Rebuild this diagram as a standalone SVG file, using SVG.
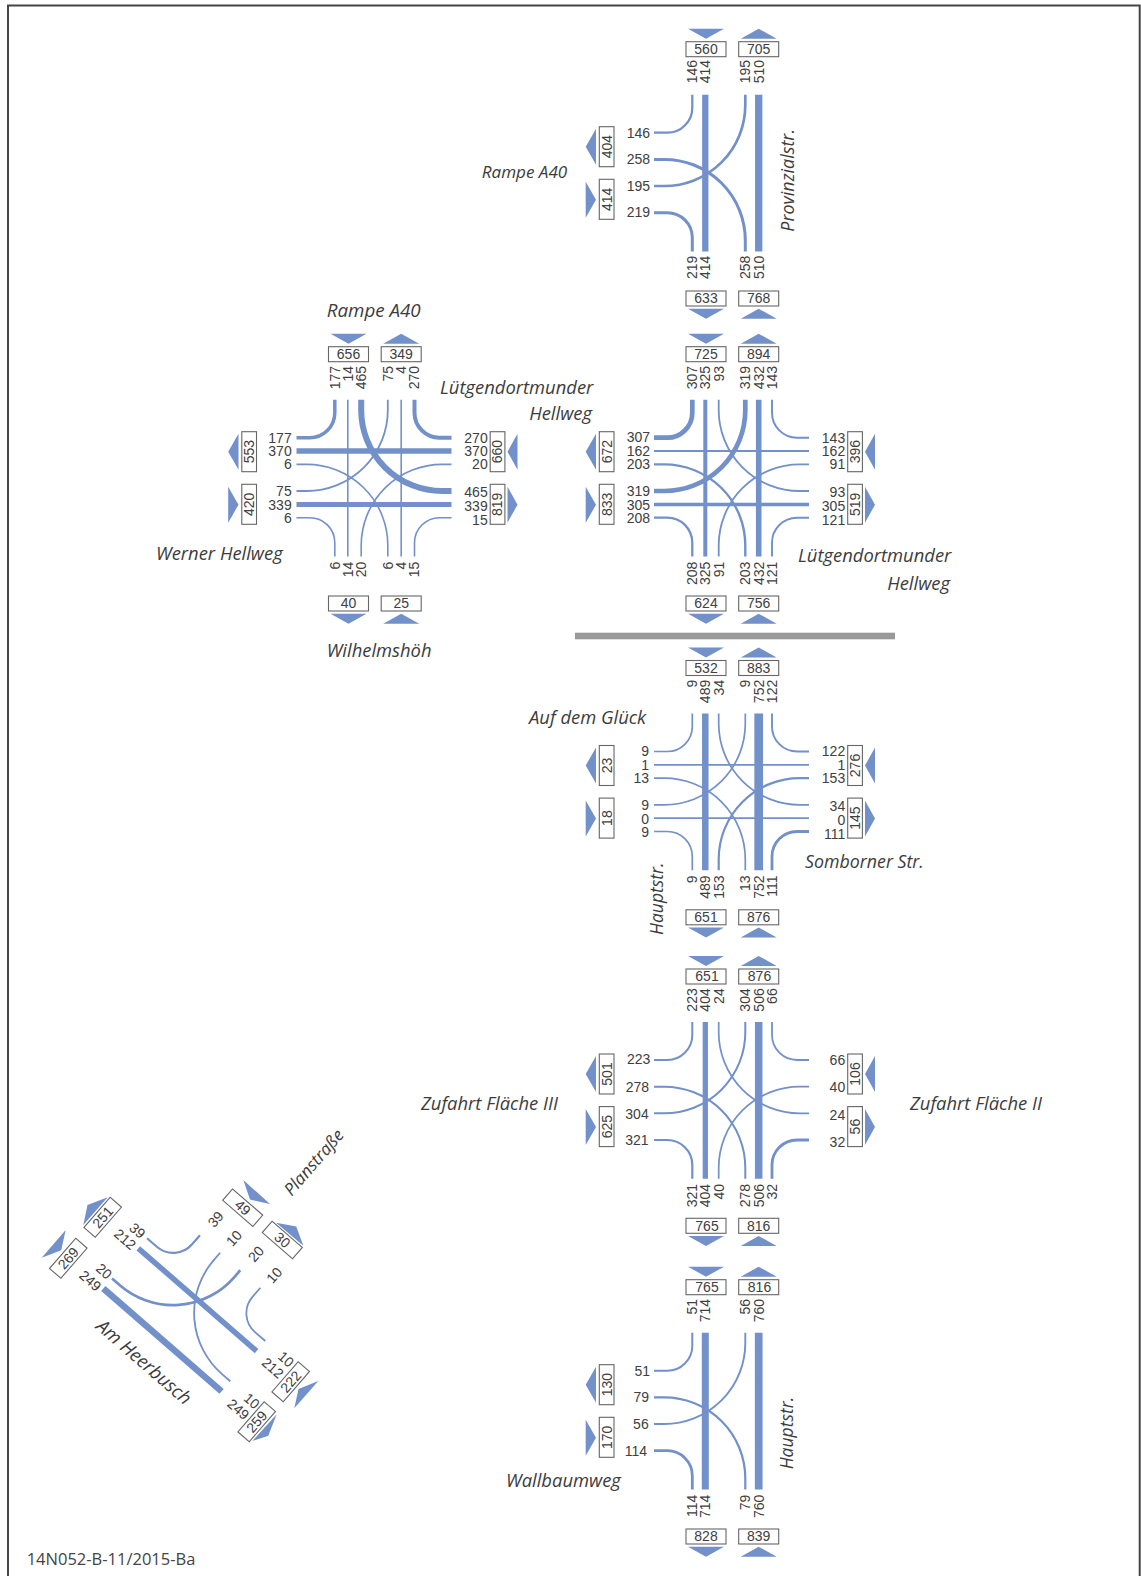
<svg xmlns="http://www.w3.org/2000/svg" width="1141" height="1576" viewBox="0 0 1141 1576">
<style>
text{font-family:"Liberation Sans",Arial,sans-serif;font-size:14px;fill:#404040}
.e{text-anchor:end}
.m{text-anchor:middle}
.i{font-family:"Open Sans","Noto Sans",sans-serif;font-style:italic;font-size:18.4px;fill:#3c3c3c}
.f{font-family:"Open Sans","Noto Sans",sans-serif;font-size:16.5px;fill:#444}
.b{fill:#fff;stroke:#666;stroke-width:1.1}
.t{fill:#7290c9}
#connectors path{fill:none;stroke:#7290c9}
</style>
<rect width="1141" height="1576" fill="#fff"/>
<path d="M8 1576V5.5H1139.7V1576" fill="none" stroke="#454545" stroke-width="2"/>
<rect id="divider" x="575" y="632.7" width="320" height="6.6" fill="#999"/>
<g id="connectors">
<g id="c-j1" transform="translate(0 132.7)">
<path stroke-width="2.3" d="M654 0H667A25 25 0 0 0 692.3-25V-38"/>
<path stroke-width="3" d="M654 26.7H664A81 81 0 0 1 745.3 107.7V118.7"/>
<path stroke-width="2.7" d="M654 53.3H664A81 81 0 0 0 745.3-27.7V-38"/>
<path stroke-width="3" d="M654 80H667A25 25 0 0 1 692.3 105V118.7"/>
<path stroke-width="6.3" d="M705.3-38V118.7"/>
<path stroke-width="7.3" d="M758.7-38V118.7"/>
</g>
<g id="c-j2" transform="translate(-357.5 437.7)">
<path stroke-width="3.5" d="M654 0H667A25 25 0 0 0 692.3-25V-38"/>
<path stroke-width="5.3" d="M654 13.3H809"/>
<path stroke-width="1.6" d="M654 26.7H664A81 81 0 0 1 745.3 107.7V118.7"/>
<path stroke-width="1.8" d="M654 53.3H664A81 81 0 0 0 745.3-27.7V-38"/>
<path stroke-width="5" d="M654 66.7H809"/>
<path stroke-width="1.6" d="M654 80H667A25 25 0 0 1 692.3 105V118.7"/>
<path stroke-width="4" d="M809 0H797A25 25 0 0 1 772-25V-38"/>
<path stroke-width="1.6" d="M809 26.7H799.7A81 81 0 0 0 718.7 107.7V118.7"/>
<path stroke-width="6" d="M809 53.3H799.7A81 81 0 0 1 718.7-27.7V-38"/>
<path stroke-width="1.6" d="M809 80H797A25 25 0 0 0 772 105V118.7"/>
<path stroke-width="1.6" d="M705.3-38V118.7"/>
<path stroke-width="1.6" d="M758.7-38V118.7"/>
</g>
<g id="c-j3" transform="translate(0 437.7)">
<path stroke-width="4.7" d="M654 0H667A25 25 0 0 0 692.3-25V-38"/>
<path stroke-width="2.2" d="M654 13.3H809"/>
<path stroke-width="2.4" d="M654 26.7H664A81 81 0 0 1 745.3 107.7V118.7"/>
<path stroke-width="4.7" d="M654 53.3H664A81 81 0 0 0 745.3-27.7V-38"/>
<path stroke-width="3.5" d="M654 66.7H809"/>
<path stroke-width="2.3" d="M654 80H667A25 25 0 0 1 692.3 105V118.7"/>
<path stroke-width="2" d="M809 0H797A25 25 0 0 1 772-25V-38"/>
<path stroke-width="1.8" d="M809 26.7H799.7A81 81 0 0 0 718.7 107.7V118.7"/>
<path stroke-width="1.8" d="M809 53.3H799.7A81 81 0 0 1 718.7-27.7V-38"/>
<path stroke-width="1.9" d="M809 80H797A25 25 0 0 0 772 105V118.7"/>
<path stroke-width="4" d="M705.3-38V118.7"/>
<path stroke-width="5.6" d="M758.7-38V118.7"/>
</g>
<g id="c-j4" transform="translate(0 751.5)">
<path stroke-width="1.7" d="M654 0H667A25 25 0 0 0 692.3-25V-38"/>
<path stroke-width="1.7" d="M654 13.3H809"/>
<path stroke-width="1.7" d="M654 26.7H664A81 81 0 0 1 745.3 107.7V118.7"/>
<path stroke-width="1.7" d="M654 53.3H664A81 81 0 0 0 745.3-27.7V-38"/>
<path stroke-width="1.7" d="M654 66.7H809"/>
<path stroke-width="1.7" d="M654 80H667A25 25 0 0 1 692.3 105V118.7"/>
<path stroke-width="1.9" d="M809 0H797A25 25 0 0 1 772-25V-38"/>
<path stroke-width="2.2" d="M809 26.7H799.7A81 81 0 0 0 718.7 107.7V118.7"/>
<path stroke-width="1.7" d="M809 53.3H799.7A81 81 0 0 1 718.7-27.7V-38"/>
<path stroke-width="2.8" d="M809 80H797A25 25 0 0 0 772 105V118.7"/>
<path stroke-width="6.5" d="M705.3-38V118.7"/>
<path stroke-width="8.7" d="M758.7-38V118.7"/>
</g>
<g id="c-j5" transform="translate(0 1060)">
<path stroke-width="2" d="M654 0H667A25 25 0 0 0 692.3-25V-38"/>
<path stroke-width="2" d="M654 26.7H664A81 81 0 0 1 745.3 107.7V118.7"/>
<path stroke-width="2" d="M654 53.3H664A81 81 0 0 0 745.3-27.7V-38"/>
<path stroke-width="2.2" d="M654 80H667A25 25 0 0 1 692.3 105V118.7"/>
<path stroke-width="1.8" d="M809 0H797A25 25 0 0 1 772-25V-38"/>
<path stroke-width="1.7" d="M809 26.7H799.7A81 81 0 0 0 718.7 107.7V118.7"/>
<path stroke-width="1.7" d="M809 53.3H799.7A81 81 0 0 1 718.7-27.7V-38"/>
<path stroke-width="2.8" d="M809 80H797A25 25 0 0 0 772 105V118.7"/>
<path stroke-width="5.3" d="M705.3-38V118.7"/>
<path stroke-width="7.5" d="M758.7-38V118.7"/>
</g>
<g id="c-j6" transform="translate(0 1370.7)">
<path stroke-width="2" d="M654 0H667A25 25 0 0 0 692.3-25V-38"/>
<path stroke-width="2.2" d="M654 26.7H664A81 81 0 0 1 745.3 107.7V118.7"/>
<path stroke-width="1.9" d="M654 53.3H664A81 81 0 0 0 745.3-27.7V-38"/>
<path stroke-width="2.8" d="M654 80H667A25 25 0 0 1 692.3 105V118.7"/>
<path stroke-width="7" d="M705.3-38V118.7"/>
<path stroke-width="7.7" d="M758.7-38V118.7"/>
</g>
<g id="c-j7" transform="translate(138.3 1248.3) rotate(-49)">
<path stroke-width="2.2" d="M50.3 38H38.3A25 25 0 0 1 13.33 13V0"/>
<path stroke-width="1.8" d="M50.3 64.67H40A81 81 0 0 0-40 145.67V156.7"/>
<path stroke-width="2.7" d="M50.3 91.33H41A81 81 0 0 1-40 10.33V0"/>
<path stroke-width="1.8" d="M50.3 118H38.3A25 25 0 0 0 13.33 143V156.7"/>
<path stroke-width="5.5" d="M0 0V156.7"/>
<path stroke-width="6.5" d="M-53.33 0V156.7"/>
</g>
</g>
<g id="j1" transform="translate(0 132.7)">
<g id="j1-n1"><polygon class="t" points="688,-104 724,-104 706,-94"/><rect class="b" x="686" y="-91" width="40" height="15"/><text class="m" x="706" y="-78.6">560</text></g>
<g id="j1-n2"><polygon class="t" points="740.7,-94 776.7,-94 758.7,-104"/><rect class="b" x="738.7" y="-91" width="40" height="15"/><text class="m" x="758.7" y="-78.6">705</text></g>
<g id="j1-s1"><polygon class="t" points="688,176 724,176 706,186"/><rect class="b" x="686" y="158.3" width="40" height="15"/><text class="m" x="706" y="170.7">633</text></g>
<g id="j1-s2"><polygon class="t" points="740.7,186 776.7,186 758.7,176"/><rect class="b" x="738.7" y="158.3" width="40" height="15"/><text class="m" x="758.7" y="170.7">768</text></g>
<g id="j1-w1"><polygon class="t" points="596,-4 596,32 585.7,14"/><rect class="b" x="599.3" y="-6" width="14.7" height="40"/><text class="m" transform="translate(611.5 14) rotate(-90)">404</text></g>
<g id="j1-w2"><polygon class="t" points="585.7,49 585.7,85 596,67"/><rect class="b" x="599.3" y="46.6" width="14.7" height="40"/><text class="m" transform="translate(611.5 66.6) rotate(-90)">414</text></g>
<g id="j1-labels">
<text class="e" transform="translate(696.8 -72.7) rotate(-90)">146</text><text class="e" transform="translate(710.1 -72.7) rotate(-90)">414</text><text class="e" transform="translate(750.1 -72.7) rotate(-90)">195</text><text class="e" transform="translate(763.5 -72.7) rotate(-90)">510</text>
<text class="e" transform="translate(696.8 123) rotate(-90)">219</text><text class="e" transform="translate(710.1 123) rotate(-90)">414</text><text class="e" transform="translate(750.1 123) rotate(-90)">258</text><text class="e" transform="translate(763.5 123) rotate(-90)">510</text>
<text class="e" x="650" y="4.8">146</text><text class="e" x="650" y="31.5">258</text><text class="e" x="650" y="58.5">195</text><text class="e" x="650" y="84.8">219</text>
</g>
</g>
<g id="j2" transform="translate(-357.5 437.7)">
<g id="j2-n1"><polygon class="t" points="688,-104 724,-104 706,-94"/><rect class="b" x="686" y="-91" width="40" height="15"/><text class="m" x="706" y="-78.6">656</text></g>
<g id="j2-n2"><polygon class="t" points="740.7,-94 776.7,-94 758.7,-104"/><rect class="b" x="738.7" y="-91" width="40" height="15"/><text class="m" x="758.7" y="-78.6">349</text></g>
<g id="j2-s1"><polygon class="t" points="688,176 724,176 706,186"/><rect class="b" x="686" y="158.3" width="40" height="15"/><text class="m" x="706" y="170.7">40</text></g>
<g id="j2-s2"><polygon class="t" points="740.7,186 776.7,186 758.7,176"/><rect class="b" x="738.7" y="158.3" width="40" height="15"/><text class="m" x="758.7" y="170.7">25</text></g>
<g id="j2-w1"><polygon class="t" points="596,-4 596,32 585.7,14"/><rect class="b" x="599.3" y="-6" width="14.7" height="40"/><text class="m" transform="translate(611.5 14) rotate(-90)">553</text></g>
<g id="j2-w2"><polygon class="t" points="585.7,49 585.7,85 596,67"/><rect class="b" x="599.3" y="46.6" width="14.7" height="40"/><text class="m" transform="translate(611.5 66.6) rotate(-90)">420</text></g>
<g id="j2-e1"><polygon class="t" points="875,-4 875,32 865,14"/><rect class="b" x="847.7" y="-6" width="14.7" height="40"/><text class="m" transform="translate(859.8 14) rotate(-90)">660</text></g>
<g id="j2-e2"><polygon class="t" points="865,49 865,85 875,67"/><rect class="b" x="847.7" y="46.6" width="14.7" height="40"/><text class="m" transform="translate(859.8 66.6) rotate(-90)">819</text></g>
<g id="j2-labels">
<text class="e" transform="translate(697.1 -71.7) rotate(-90)">177</text><text class="e" transform="translate(710.1 -71.7) rotate(-90)">14</text><text class="e" transform="translate(723.5 -71.7) rotate(-90)">465</text><text class="e" transform="translate(750.1 -71.7) rotate(-90)">75</text><text class="e" transform="translate(763.5 -71.7) rotate(-90)">4</text><text class="e" transform="translate(776.8 -71.7) rotate(-90)">270</text>
<text class="e" transform="translate(697.1 124) rotate(-90)">6</text><text class="e" transform="translate(710.1 124) rotate(-90)">14</text><text class="e" transform="translate(723.5 124) rotate(-90)">20</text><text class="e" transform="translate(750.1 124) rotate(-90)">6</text><text class="e" transform="translate(763.5 124) rotate(-90)">4</text><text class="e" transform="translate(776.8 124) rotate(-90)">15</text>
<text class="e" x="649.2" y="4.8">177</text><text class="e" x="649.2" y="18.1">370</text><text class="e" x="649.2" y="31.5">6</text><text class="e" x="649.2" y="58.5">75</text><text class="e" x="649.2" y="72.5">339</text><text class="e" x="649.2" y="85.8">6</text>
<text class="e" x="845.2" y="4.8">270</text><text class="e" x="845.2" y="18.1">370</text><text class="e" x="845.2" y="31.5">20</text><text class="e" x="845.2" y="59.8">465</text><text class="e" x="845.2" y="73.2">339</text><text class="e" x="845.2" y="87.3">15</text>
</g>
</g>
<g id="j3" transform="translate(0 437.7)">
<g id="j3-n1"><polygon class="t" points="688,-104 724,-104 706,-94"/><rect class="b" x="686" y="-91" width="40" height="15"/><text class="m" x="706" y="-78.6">725</text></g>
<g id="j3-n2"><polygon class="t" points="740.7,-94 776.7,-94 758.7,-104"/><rect class="b" x="738.7" y="-91" width="40" height="15"/><text class="m" x="758.7" y="-78.6">894</text></g>
<g id="j3-s1"><polygon class="t" points="688,176 724,176 706,186"/><rect class="b" x="686" y="158.3" width="40" height="15"/><text class="m" x="706" y="170.7">624</text></g>
<g id="j3-s2"><polygon class="t" points="740.7,186 776.7,186 758.7,176"/><rect class="b" x="738.7" y="158.3" width="40" height="15"/><text class="m" x="758.7" y="170.7">756</text></g>
<g id="j3-w1"><polygon class="t" points="596,-4 596,32 585.7,14"/><rect class="b" x="599.3" y="-6" width="14.7" height="40"/><text class="m" transform="translate(611.5 14) rotate(-90)">672</text></g>
<g id="j3-w2"><polygon class="t" points="585.7,49 585.7,85 596,67"/><rect class="b" x="599.3" y="46.6" width="14.7" height="40"/><text class="m" transform="translate(611.5 66.6) rotate(-90)">833</text></g>
<g id="j3-e1"><polygon class="t" points="875,-4 875,32 865,14"/><rect class="b" x="847.7" y="-6" width="14.7" height="40"/><text class="m" transform="translate(859.8 14) rotate(-90)">396</text></g>
<g id="j3-e2"><polygon class="t" points="865,49 865,85 875,67"/><rect class="b" x="847.7" y="46.6" width="14.7" height="40"/><text class="m" transform="translate(859.8 66.6) rotate(-90)">519</text></g>
<g id="j3-labels">
<text class="e" transform="translate(697.1 -71.7) rotate(-90)">307</text><text class="e" transform="translate(710.1 -71.7) rotate(-90)">325</text><text class="e" transform="translate(723.5 -71.7) rotate(-90)">93</text><text class="e" transform="translate(750.1 -71.7) rotate(-90)">319</text><text class="e" transform="translate(763.5 -71.7) rotate(-90)">432</text><text class="e" transform="translate(776.8 -71.7) rotate(-90)">143</text>
<text class="e" transform="translate(697.1 124) rotate(-90)">208</text><text class="e" transform="translate(710.1 124) rotate(-90)">325</text><text class="e" transform="translate(723.5 124) rotate(-90)">91</text><text class="e" transform="translate(750.1 124) rotate(-90)">203</text><text class="e" transform="translate(763.5 124) rotate(-90)">432</text><text class="e" transform="translate(776.8 124) rotate(-90)">121</text>
<text class="e" x="650" y="4">307</text><text class="e" x="650" y="18">162</text><text class="e" x="650" y="31.5">203</text><text class="e" x="650" y="58.3">319</text><text class="e" x="650" y="72">305</text><text class="e" x="650" y="85">208</text>
<text class="e" x="845.2" y="4.8">143</text><text class="e" x="845.2" y="18.1">162</text><text class="e" x="845.2" y="31.5">91</text><text class="e" x="845.2" y="59.8">93</text><text class="e" x="845.2" y="73.2">305</text><text class="e" x="845.2" y="87.3">121</text>
</g>
</g>
<g id="j4" transform="translate(0 751.5)">
<g id="j4-n1"><polygon class="t" points="688,-104 724,-104 706,-94"/><rect class="b" x="686" y="-91" width="40" height="15"/><text class="m" x="706" y="-78.6">532</text></g>
<g id="j4-n2"><polygon class="t" points="740.7,-94 776.7,-94 758.7,-104"/><rect class="b" x="738.7" y="-91" width="40" height="15"/><text class="m" x="758.7" y="-78.6">883</text></g>
<g id="j4-s1"><polygon class="t" points="688,176 724,176 706,186"/><rect class="b" x="686" y="158.3" width="40" height="15"/><text class="m" x="706" y="170.7">651</text></g>
<g id="j4-s2"><polygon class="t" points="740.7,186 776.7,186 758.7,176"/><rect class="b" x="738.7" y="158.3" width="40" height="15"/><text class="m" x="758.7" y="170.7">876</text></g>
<g id="j4-w1"><polygon class="t" points="596,-4 596,32 585.7,14"/><rect class="b" x="599.3" y="-6" width="14.7" height="40"/><text class="m" transform="translate(611.5 14) rotate(-90)">23</text></g>
<g id="j4-w2"><polygon class="t" points="585.7,49 585.7,85 596,67"/><rect class="b" x="599.3" y="46.6" width="14.7" height="40"/><text class="m" transform="translate(611.5 66.6) rotate(-90)">18</text></g>
<g id="j4-e1"><polygon class="t" points="875,-4 875,32 865,14"/><rect class="b" x="847.7" y="-6" width="14.7" height="40"/><text class="m" transform="translate(859.8 14) rotate(-90)">276</text></g>
<g id="j4-e2"><polygon class="t" points="865,49 865,85 875,67"/><rect class="b" x="847.7" y="46.6" width="14.7" height="40"/><text class="m" transform="translate(859.8 66.6) rotate(-90)">145</text></g>
<g id="j4-labels">
<text class="e" transform="translate(697.1 -71.7) rotate(-90)">9</text><text class="e" transform="translate(710.1 -71.7) rotate(-90)">489</text><text class="e" transform="translate(723.5 -71.7) rotate(-90)">34</text><text class="e" transform="translate(750.1 -71.7) rotate(-90)">9</text><text class="e" transform="translate(763.5 -71.7) rotate(-90)">752</text><text class="e" transform="translate(776.8 -71.7) rotate(-90)">122</text>
<text class="e" transform="translate(697.1 124) rotate(-90)">9</text><text class="e" transform="translate(710.1 124) rotate(-90)">489</text><text class="e" transform="translate(723.5 124) rotate(-90)">153</text><text class="e" transform="translate(750.1 124) rotate(-90)">13</text><text class="e" transform="translate(763.5 124) rotate(-90)">752</text><text class="e" transform="translate(776.8 124) rotate(-90)">111</text>
<text class="e" x="649" y="4.8">9</text><text class="e" x="649" y="18">1</text><text class="e" x="649" y="31.5">13</text><text class="e" x="649" y="58.3">9</text><text class="e" x="649" y="72">0</text><text class="e" x="649" y="85">9</text>
<text class="e" x="845.2" y="4.8">122</text><text class="e" x="845.2" y="18.1">1</text><text class="e" x="845.2" y="31.5">153</text><text class="e" x="845.2" y="59.8">34</text><text class="e" x="845.2" y="73.2">0</text><text class="e" x="845.2" y="87.3">111</text>
</g>
</g>
<g id="j5" transform="translate(0 1060)">
<g id="j5-n1"><polygon class="t" points="688,-104 724,-104 706,-94"/><rect class="b" x="686" y="-91" width="40" height="15"/><text class="m" x="707" y="-78.6">651</text></g>
<g id="j5-n2"><polygon class="t" points="740.7,-94 776.7,-94 758.7,-104"/><rect class="b" x="738.7" y="-91" width="40" height="15"/><text class="m" x="759.5" y="-78.6">876</text></g>
<g id="j5-s1"><polygon class="t" points="688,176 724,176 706,186"/><rect class="b" x="686" y="158.3" width="40" height="15"/><text class="m" x="707" y="170.7">765</text></g>
<g id="j5-s2"><polygon class="t" points="740.7,186 776.7,186 758.7,176"/><rect class="b" x="738.7" y="158.3" width="40" height="15"/><text class="m" x="758.7" y="170.7">816</text></g>
<g id="j5-w1"><polygon class="t" points="596,-4 596,32 585.7,14"/><rect class="b" x="599.3" y="-6" width="14.7" height="40"/><text class="m" transform="translate(611.5 14) rotate(-90)">501</text></g>
<g id="j5-w2"><polygon class="t" points="585.7,49 585.7,85 596,67"/><rect class="b" x="599.3" y="46.6" width="14.7" height="40"/><text class="m" transform="translate(611.5 66.6) rotate(-90)">625</text></g>
<g id="j5-e1"><polygon class="t" points="875,-4 875,32 865,14"/><rect class="b" x="847.7" y="-6" width="14.7" height="40"/><text class="m" transform="translate(859.8 14) rotate(-90)">106</text></g>
<g id="j5-e2"><polygon class="t" points="865,49 865,85 875,67"/><rect class="b" x="847.7" y="46.6" width="14.7" height="40"/><text class="m" transform="translate(859.8 66.6) rotate(-90)">56</text></g>
<g id="j5-labels">
<text class="e" transform="translate(697.1 -71.7) rotate(-90)">223</text><text class="e" transform="translate(710.1 -71.7) rotate(-90)">404</text><text class="e" transform="translate(723.5 -71.7) rotate(-90)">24</text><text class="e" transform="translate(750.1 -71.7) rotate(-90)">304</text><text class="e" transform="translate(763.5 -71.7) rotate(-90)">506</text><text class="e" transform="translate(776.8 -71.7) rotate(-90)">66</text>
<text class="e" transform="translate(697.1 124) rotate(-90)">321</text><text class="e" transform="translate(710.1 124) rotate(-90)">404</text><text class="e" transform="translate(723.5 124) rotate(-90)">40</text><text class="e" transform="translate(750.1 124) rotate(-90)">278</text><text class="e" transform="translate(763.5 124) rotate(-90)">506</text><text class="e" transform="translate(776.8 124) rotate(-90)">32</text>
<text class="e" x="650.3" y="4.3">223</text><text class="e" x="649" y="32">278</text><text class="e" x="648.7" y="58.5">304</text><text class="e" x="648.5" y="84.8">321</text>
<text class="e" x="845.2" y="4.8">66</text><text class="e" x="845.2" y="31.5">40</text><text class="e" x="845.2" y="60">24</text><text class="e" x="845.2" y="86.5">32</text>
</g>
</g>
<g id="j6" transform="translate(0 1370.7)">
<g id="j6-n1"><polygon class="t" points="688,-104 724,-104 706,-94"/><rect class="b" x="686" y="-91" width="40" height="15"/><text class="m" x="707" y="-78.6">765</text></g>
<g id="j6-n2"><polygon class="t" points="740.7,-94 776.7,-94 758.7,-104"/><rect class="b" x="738.7" y="-91" width="40" height="15"/><text class="m" x="759.5" y="-78.6">816</text></g>
<g id="j6-s1"><polygon class="t" points="688,176 724,176 706,186"/><rect class="b" x="686" y="158.3" width="40" height="15"/><text class="m" x="706" y="170.7">828</text></g>
<g id="j6-s2"><polygon class="t" points="740.7,186 776.7,186 758.7,176"/><rect class="b" x="738.7" y="158.3" width="40" height="15"/><text class="m" x="758.7" y="170.7">839</text></g>
<g id="j6-w1"><polygon class="t" points="596,-4 596,32 585.7,14"/><rect class="b" x="599.3" y="-6" width="14.7" height="40"/><text class="m" transform="translate(611.5 14) rotate(-90)">130</text></g>
<g id="j6-w2"><polygon class="t" points="585.7,49 585.7,85 596,67"/><rect class="b" x="599.3" y="46.6" width="14.7" height="40"/><text class="m" transform="translate(611.5 66.6) rotate(-90)">170</text></g>
<g id="j6-labels">
<text class="e" transform="translate(697.1 -71.7) rotate(-90)">51</text><text class="e" transform="translate(710.1 -71.7) rotate(-90)">714</text><text class="e" transform="translate(750.1 -71.7) rotate(-90)">56</text><text class="e" transform="translate(763.5 -71.7) rotate(-90)">760</text>
<text class="e" transform="translate(697.1 124) rotate(-90)">114</text><text class="e" transform="translate(710.1 124) rotate(-90)">714</text><text class="e" transform="translate(750.1 124) rotate(-90)">79</text><text class="e" transform="translate(763.5 124) rotate(-90)">760</text>
<text class="e" x="650" y="4.8">51</text><text class="e" x="649" y="31.5">79</text><text class="e" x="648.7" y="58.5">56</text><text class="e" x="647" y="85">114</text>
</g>
</g>
<g id="j7">
<g id="j7-nw1"><polygon class="t" points="83.3,1225 107.7,1197.3 87.5,1205"/><g transform="translate(102.7 1217.3) rotate(-49)"><rect class="b" x="-20" y="-7.5" width="40" height="15"/><text class="m" y="4.8">251</text></g></g>
<g id="j7-nw2"><polygon class="t" points="41.7,1257.7 65.7,1230 61.2,1250.3"/><g transform="translate(68.3 1258.3) rotate(-49)"><rect class="b" x="-20" y="-7.5" width="40" height="15"/><text class="m" y="4.8">269</text></g></g>
<g id="j7-ne1"><polygon class="t" points="243.3,1180 270,1204 250,1199.6"/><g transform="translate(242.7 1207.7) rotate(41)"><rect class="b" x="-20" y="-7.5" width="40" height="15"/><text class="m" y="4.8">49</text></g></g>
<g id="j7-ne2"><polygon class="t" points="276,1222.7 303.3,1245.7 296.3,1226.6"/><g transform="translate(282.3 1240) rotate(41)"><rect class="b" x="-20" y="-7.5" width="40" height="15"/><text class="m" y="4.8">30</text></g></g>
<g id="j7-se1"><polygon class="t" points="294.3,1408.3 318.3,1381 298.5,1389"/><g transform="translate(290.7 1381.7) rotate(-49)"><rect class="b" x="-20" y="-7.5" width="40" height="15"/><text class="m" y="4.8">222</text></g></g>
<g id="j7-se2"><polygon class="t" points="276.7,1414.3 252.3,1441 268.3,1435.7"/><g transform="translate(256.7 1421.7) rotate(-49)"><rect class="b" x="-20" y="-7.5" width="40" height="15"/><text class="m" y="4.8">259</text></g></g>
<g id="j7-labels">
<text class="m" transform="translate(137.3 1230.7) rotate(41)" y="4.8">39</text><text class="m" transform="translate(125 1239.3) rotate(41)" y="4.8">212</text>
<text class="m" transform="translate(104 1271.3) rotate(41)" y="4.8">20</text><text class="m" transform="translate(90.3 1280.7) rotate(41)" y="4.8">249</text>
<text class="m" transform="translate(215.7 1219.3) rotate(-49)" y="4.8">39</text><text class="m" transform="translate(234 1238.3) rotate(-49)" y="4.8">10</text><text class="m" transform="translate(256 1254) rotate(-49)" y="4.8">20</text><text class="m" transform="translate(274.3 1275.3) rotate(-49)" y="4.8">10</text>
<text class="m" transform="translate(286 1359.3) rotate(41)" y="4.8">10</text><text class="m" transform="translate(272.7 1368) rotate(41)" y="4.8">212</text>
<text class="m" transform="translate(251.7 1401) rotate(41)" y="4.8">10</text><text class="m" transform="translate(238.3 1409.3) rotate(41)" y="4.8">249</text>
</g>
</g>
<g id="street-names">
<text class="i" x="481.7" y="178" style="font-size:17.1px">Rampe A40</text>
<text class="i" transform="translate(794 231.7) rotate(-90)" style="font-size:17.9px">Provinzialstr.</text>
<text class="i" x="326.7" y="316.7" style="font-size:18.8px">Rampe A40</text>
<text class="i" x="440" y="394">Lütgendortmunder</text>
<text class="i e" x="592" y="420">Hellweg</text>
<text class="i" x="156" y="560">Werner Hellweg</text>
<text class="i" x="326.7" y="657">Wilhelmshöh</text>
<text class="i" x="798" y="562">Lütgendortmunder</text>
<text class="i e" x="950" y="590">Hellweg</text>
<text class="i" x="529" y="724">Auf dem Glück</text>
<text class="i" transform="translate(663 935) rotate(-90)" style="font-size:17.5px">Hauptstr.</text>
<text class="i" x="805" y="868" style="font-size:17.8px">Somborner Str.</text>
<text class="i" x="421" y="1110">Zufahrt Fläche III</text>
<text class="i" x="910" y="1110">Zufahrt Fläche II</text>
<text class="i" transform="translate(793 1469.3) rotate(-90)" style="font-size:17.5px">Hauptstr.</text>
<text class="i" x="506" y="1487">Wallbaumweg</text>
<text class="i" transform="translate(291.7 1196.7) rotate(-49)" style="font-size:17px">Planstraße</text>
<text class="i" transform="translate(95 1328) rotate(41)" style="font-size:18.6px">Am Heerbusch</text>
</g>
<text id="doc-ref" class="f" x="26.7" y="1565">14N052-B-11/2015-Ba</text>
</svg>
